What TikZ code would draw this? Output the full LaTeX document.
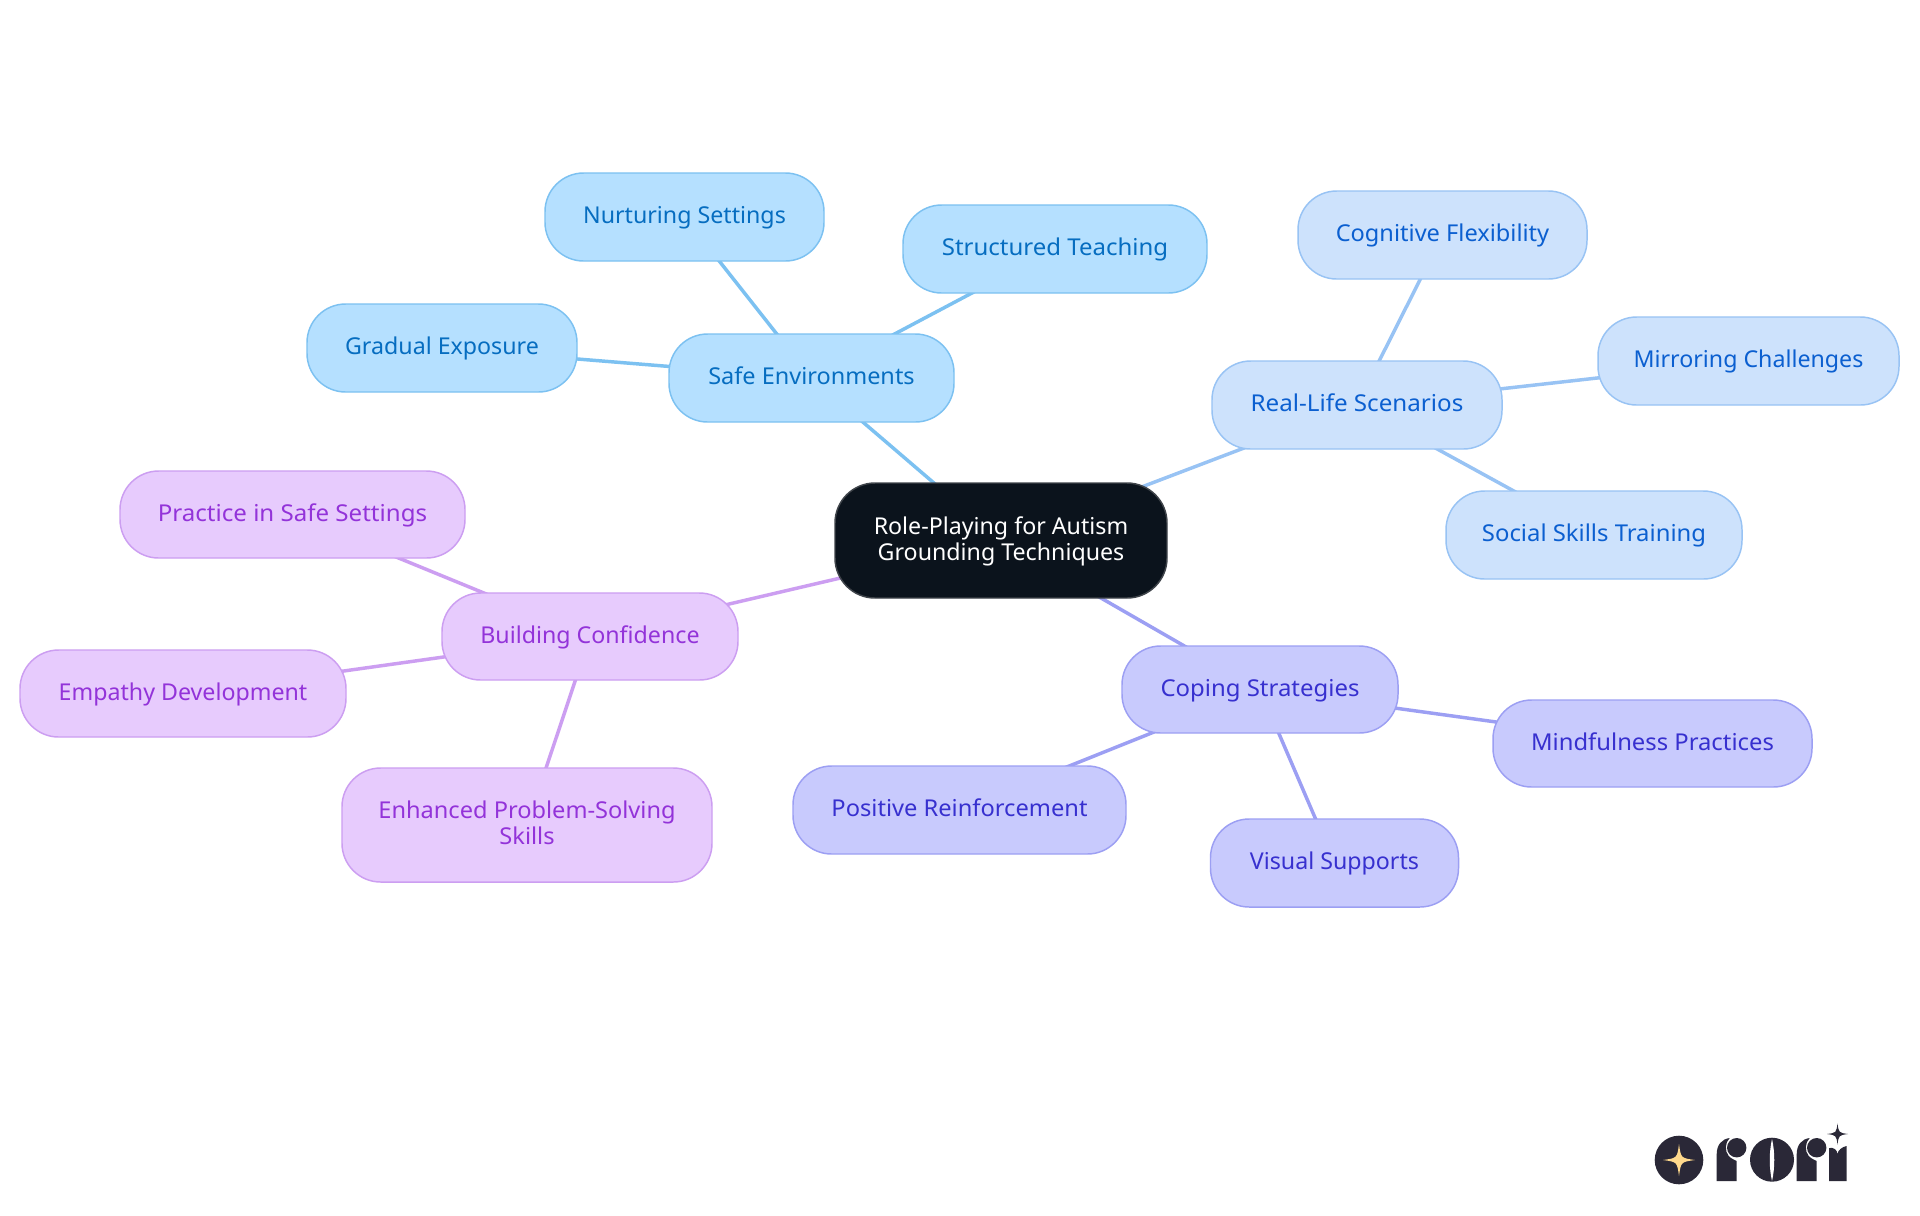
\documentclass[tikz,border=0pt]{standalone}
\usepackage{fontspec}
\setmainfont{Noto Sans}
\usetikzlibrary{backgrounds}
\definecolor{safeF}{HTML}{B5E0FF}\definecolor{safeB}{HTML}{7CC1F1}\definecolor{safeT}{HTML}{066DC0}
\definecolor{realF}{HTML}{CDE2FC}\definecolor{realB}{HTML}{98C3F4}\definecolor{realT}{HTML}{0B5FD0}
\definecolor{copeF}{HTML}{C8CAFD}\definecolor{copeB}{HTML}{9C9FF3}\definecolor{copeT}{HTML}{3730CF}
\definecolor{buildF}{HTML}{E7CBFD}\definecolor{buildB}{HTML}{CC9EF1}\definecolor{buildT}{HTML}{9333D9}
\definecolor{rootF}{HTML}{0B131C}\definecolor{rootB}{HTML}{3F444A}
\definecolor{logoD}{HTML}{2A2837}\definecolor{logoY}{HTML}{FFD98C}
\tikzset{
  sz/.style 2 args={minimum width=#1*0.75pt,minimum height=#2*0.75pt},
  mm/.style={rectangle,rounded corners=29pt,inner sep=0pt,line width=1.1pt,align=center,
    text height=13.1pt,text depth=3.1pt,
    font=\fontsize{17.4}{19.5}\selectfont},
  st/.style={font=\fontsize{17.4}{19.5}\selectfont\addfontfeature{FakeStretch=#1}},
  twolines/.style={text height=33.5pt,text depth=3.9pt},
  safe/.style={mm,fill=safeF,draw=safeB,text=safeT},
  real/.style={mm,fill=realF,draw=realB,text=realT},
  cope/.style={mm,fill=copeF,draw=copeB,text=copeT},
  build/.style={mm,fill=buildF,draw=buildB,text=buildT},
  rootn/.style={mm,rounded corners=30pt,fill=rootF,draw=rootB,text=white},
  safeE/.style={draw=safeB,line width=2.6pt},
  realE/.style={draw=realB,line width=2.6pt},
  copeE/.style={draw=copeB,line width=2.6pt},
  buildE/.style={draw=buildB,line width=2.6pt},
}
\newcommand{\fourstar}[4]{\fill[#4] ({#1},{#2-#3}) .. controls ({#1+0.12*#3},{#2-0.12*#3}) .. ({#1+#3},{#2})
  .. controls ({#1+0.12*#3},{#2+0.12*#3}) .. ({#1},{#2+#3})
  .. controls ({#1-0.12*#3},{#2+0.12*#3}) .. ({#1-#3},{#2})
  .. controls ({#1-0.12*#3},{#2-0.12*#3}) .. cycle;}
\newcommand{\logor}[1]{%
  \fill[logoD] ({#1},1181) -- ({#1},1154) .. controls ({#1},1145) and ({#1+5},1139) .. ({#1+13},1138)
    .. controls ({#1+8},1143) and ({#1+8},1151) .. ({#1+12},1156) .. controls ({#1+15},1159) and ({#1+18},1160) .. ({#1+20},1161) -- ({#1+20},1181) -- cycle;
  \fill[logoD] ({#1+20},1147.7) circle [radius=9.7];}
\begin{document}
\begin{tikzpicture}[x=0.75pt,y=-0.75pt]
\useasboundingbox (0,0) rectangle (1920,1215);
\node[rootn,twolines,sz={332}{115}] (root) at (1001,540.5) {Role-Playing for Autism\\Grounding Techniques};
\node[safe,st=1.012,sz={285}{88}] (safe) at (811.5,378) {Safe Environments};
\node[safe,sz={279}{88}] (nurt) at (684.5,217) {Nurturing Settings};
\node[safe,st=1.034,sz={304}{88}] (struct) at (1055,249) {Structured Teaching};
\node[safe,sz={270}{88}] (grad) at (442,348) {Gradual Exposure};
\node[real,st=1.042,sz={290}{88}] (life) at (1357,405) {Real-Life Scenarios};
\node[real,st=1.017,sz={289}{88}] (cog) at (1442.5,235) {Cognitive Flexibility};
\node[real,sz={301}{88}] (mirr) at (1748.5,361) {Mirroring Challenges};
\node[real,st=1.028,sz={296}{88}] (soc) at (1594,535) {Social Skills Training};
\node[cope,st=1.032,sz={276}{87}] (cope) at (1260,689.5) {Coping Strategies};
\node[cope,st=1.026,sz={319}{87}] (mind) at (1652.5,743.5) {Mindfulness Practices};
\node[cope,st=1.02,sz={333}{88}] (pos) at (959.5,810) {Positive Reinforcement};
\node[cope,sz={248}{88}] (vis) at (1334.5,863) {Visual Supports};
\node[build,sz={296}{87}] (conf) at (590,636.5) {Building Confidence};
\node[build,st=1.038,sz={345}{87}] (prac) at (292.5,514.5) {Practice in Safe Settings};
\node[build,sz={326}{87}] (emp) at (183,693.5) {Empathy Development};
\node[build,twolines,st=1.017,sz={370}{114}] (enh) at (527,825) {Enhanced Problem-Solving\\Skills};
\begin{scope}[on background layer]
\fill[white] (0,0) rectangle (1920,1215);
\draw[safeE] (root.center) -- (safe.center);
\draw[safeE] (safe.center) -- (nurt.center);
\draw[safeE] (safe.center) -- (struct.center);
\draw[safeE] (safe.center) -- (grad.center);
\draw[realE] (root.center) -- (life.center);
\draw[realE] (life.center) -- (cog.center);
\draw[realE] (life.center) -- (mirr.center);
\draw[realE] (life.center) -- (soc.center);
\draw[copeE] (root.center) -- (cope.center);
\draw[copeE] (cope.center) -- (mind.center);
\draw[copeE] (cope.center) -- (pos.center);
\draw[copeE] (cope.center) -- (vis.center);
\draw[buildE] (root.center) -- (conf.center);
\draw[buildE] (conf.center) -- (prac.center);
\draw[buildE] (conf.center) -- (emp.center);
\draw[buildE] (conf.center) -- (enh.center);
\end{scope}
% logo
\fill[logoD] (1679,1160) circle [radius=24.3];
\fourstar{1679}{1160}{16}{logoY}
\logor{1716.7}
\logor{1796.7}
\fill[logoD] (1772,1159.7) circle [radius=22];
\fill[white] (1772,1139) .. controls (1775,1152) and (1775,1168) .. (1772,1181) .. controls (1769,1168) and (1769,1152) .. (1772,1139) -- cycle;
\fill[logoD] (1829,1181) -- (1829,1148) .. controls (1834,1147) and (1837,1150) .. (1837.5,1154) .. controls (1838,1150) and (1842,1147) .. (1846.5,1146) -- (1846.5,1181) -- cycle;
\fourstar{1837.5}{1134}{10.5}{logoD}
\end{tikzpicture}
\end{document}
